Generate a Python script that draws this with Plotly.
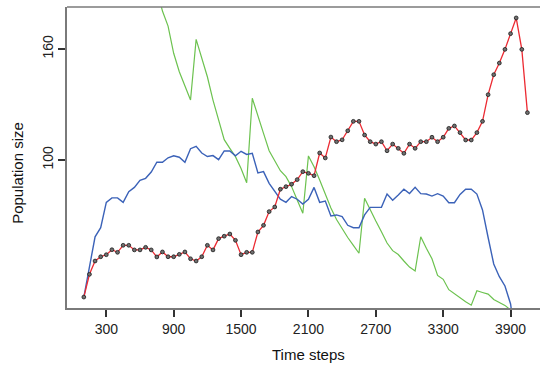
import plotly.graph_objects as go

# Time steps (sampling every 50 steps)
times = [100, 150, 200, 250, 300, 350, 400, 450, 500, 550,
         600, 650, 700, 750, 800, 850, 900, 950, 1000, 1050,
         1100, 1150, 1200, 1250, 1300, 1350, 1400, 1450, 1500, 1550,
         1600, 1650, 1700, 1750, 1800, 1850, 1900, 1950, 2000, 2050,
         2100, 2150, 2200, 2250, 2300, 2350, 2400, 2450, 2500, 2550,
         2600, 2650, 2700, 2750, 2800, 2850, 2900, 2950, 3000, 3050,
         3100, 3150, 3200, 3250, 3300, 3350, 3400, 3450, 3500, 3550,
         3600, 3650, 3700, 3750, 3800, 3850, 3900, 3950, 4000, 4050]

red_values = [25.9, 38.2, 45.4, 47.7, 48.8, 51.5, 50.1, 53.9, 53.9, 51.4,
              51.4, 52.8, 51.4, 47.6, 50.3, 47.7, 47.7, 49.0, 50.3, 46.6,
              45.4, 47.7, 53.9, 51.4, 57.5, 58.8, 60.0, 56.6, 48.8, 50.1,
              50.1, 61.1, 64.7, 72.1, 74.6, 84.2, 85.6, 86.9, 89.4, 93.7,
              92.8, 91.5, 103.8, 101.1, 112.4, 109.9, 110.9, 115.8, 120.9, 120.9,
              113.5, 109.9, 108.6, 109.9, 105.0, 108.6, 106.3, 103.6, 108.6, 106.3,
              109.9, 109.9, 112.3, 109.9, 112.3, 117.1, 118.4, 114.8, 110.8, 110.8,
              114.8, 120.9, 135.3, 146.1, 152.4, 159.8, 168.3, 176.8, 159.8, 125.6]

blue_values = [25.9, 42.3, 58.5, 63.4, 77.1, 79.5, 79.5, 77.1, 82.9, 85.2,
               89.0, 90.1, 93.5, 98.8, 98.8, 101.2, 102.3, 101.5, 98.8, 106.1,
               107.4, 103.8, 101.9, 102.4, 100.2, 104.9, 104.9, 102.3, 104.7, 103.0,
               103.6, 93.0, 93.7, 87.4, 83.1, 78.8, 77.1, 80.2, 78.8, 76.2,
               78.8, 85.2, 77.1, 77.8, 69.7, 70.3, 69.4, 64.7, 63.4, 63.4,
               70.3, 74.4, 74.4, 74.4, 81.6, 78.2, 81.1, 84.2, 81.9, 85.2,
               81.8, 81.6, 80.5, 81.8, 80.5, 76.9, 76.9, 81.4, 84.2, 84.2,
               81.6, 73.0, 58.1, 43.8, 36.9, 31.9, 22.2, 0.0]

green_times = times[13:78]
green_values = [192.4, 180.5, 172.4, 157.7, 147.7, 140.0, 132.4, 165.2, 155.0, 145.0,
                132.4, 121.1, 111.0, 106.3, 101.8, 95.4, 87.7, 133.4, 123.4, 114.4,
                105.0, 99.6, 94.2, 91.0, 85.6, 78.4, 71.2, 102.2, 96.4, 89.2,
                81.6, 74.1, 67.8, 62.7, 58.1, 53.8, 49.6, 79.3, 72.8, 67.0,
                61.2, 55.1, 51.0, 48.9, 45.4, 42.1, 40.0, 58.5, 52.3, 46.6,
                37.6, 35.5, 29.9, 27.6, 25.2, 23.4, 21.5, 29.3, 28.4, 27.5,
                24.6, 23.2, 21.4, 18.9, 8.0]

x_ticks = [300, 900, 1500, 2100, 2700, 3300, 3900]
y_ticks = [100, 160]

FONT = "Liberation Sans, Arial, sans-serif"

fig = go.Figure()
fig.add_trace(go.Scatter(x=green_times, y=green_values, mode="lines",
                         line=dict(color="#6cc24f", width=1.2), showlegend=False))
fig.add_trace(go.Scatter(x=times[:len(blue_values)], y=blue_values, mode="lines",
                         line=dict(color="#3b62b8", width=1.4), showlegend=False))
fig.add_trace(go.Scatter(x=times, y=red_values, mode="lines+markers",
                         line=dict(color="#ec2a32", width=1.3),
                         marker=dict(size=3.8, color="#707070",
                                     line=dict(color="#1a1a1a", width=0.8)),
                         showlegend=False))

fig.update_layout(
    template="none",
    width=540, height=369,
    margin=dict(l=67, r=0, t=7, b=61),
    paper_bgcolor="white", plot_bgcolor="white",
    font=dict(family=FONT, size=14, color="#222222"),
    xaxis=dict(range=[-50, 4162], tickvals=x_ticks, ticks="outside", ticklen=7,
               tickwidth=1.5, tickcolor="#333333", showgrid=False, zeroline=False,
               automargin=False,
               showline=True, linecolor="#7a7a7a", linewidth=1.5,
               tickfont=dict(size=14, family=FONT, color="#222222")),
    yaxis=dict(range=[20.0, 182.7], tickvals=y_ticks, ticks="outside", ticklen=7,
               tickwidth=1.5, tickcolor="#333333", showgrid=False, zeroline=False,
               automargin=False,
               showline=True, linecolor="#7a7a7a", linewidth=1.5, tickangle=-90,
               tickfont=dict(size=14, family=FONT, color="#222222")),
    shapes=[dict(type="line", xref="paper", yref="paper", x0=0, x1=1, y0=1, y1=1,
                 line=dict(color="#7a7a7a", width=1.5))],
    annotations=[
        dict(text="Time steps", xref="paper", yref="paper", x=0.51, y=-0.155,
             showarrow=False, font=dict(size=15, family=FONT, color="#111111"),
             xanchor="center", yanchor="middle"),
        dict(text="Population size", xref="paper", yref="paper", x=-0.106, y=0.4485,
             showarrow=False, textangle=-90, font=dict(size=15, family=FONT, color="#111111"),
             xanchor="center", yanchor="middle"),
    ],
)

fig.write_html("out.html", config={"displayModeBar": False},
               post_script="document.body.style.margin='0';document.body.style.overflow='hidden';")
